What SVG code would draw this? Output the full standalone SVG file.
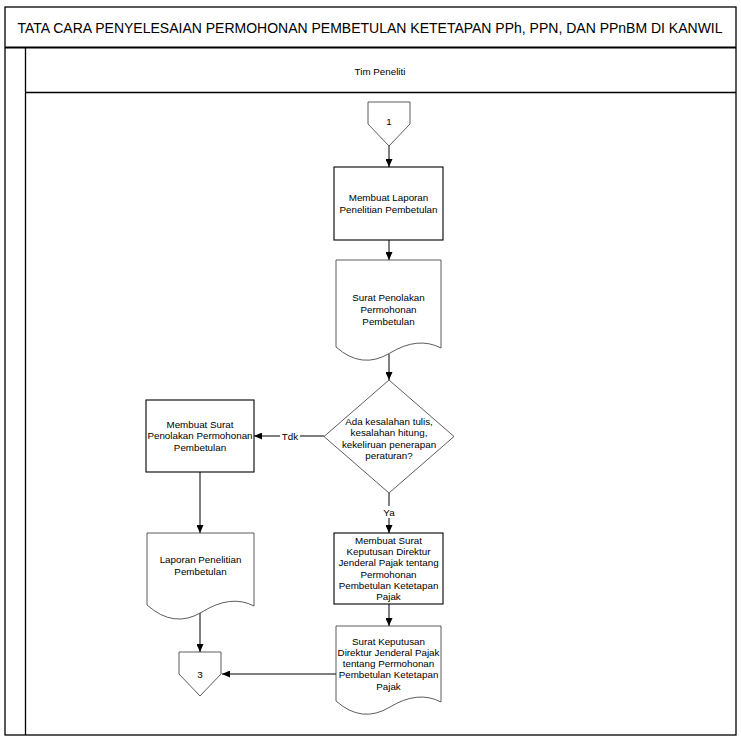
<svg xmlns="http://www.w3.org/2000/svg" width="741" height="742" viewBox="0 0 741 742">
<defs>
<marker id="ah" markerWidth="8" markerHeight="7" refX="8" refY="3.5" orient="auto" markerUnits="userSpaceOnUse">
<path d="M0,0 L8,3.5 L0,7 z" fill="#000"/>
</marker>
<style>
text{font-family:"Liberation Sans",Arial,sans-serif;font-size:9.8px;fill:#000;text-anchor:middle}
.title{font-size:14px}
.frame{fill:none;stroke:#000;stroke-width:1.3}
.box{fill:#fff;stroke:#000;stroke-width:1.1}
.thin{fill:#fff;stroke:#333;stroke-width:0.8}
.conn{fill:none;stroke:#000;stroke-width:1;marker-end:url(#ah)}
.lbl{fill:#fff;stroke:none}
</style>
</defs>
<rect width="741" height="742" fill="#fff"/>
<g id="frame">
<rect class="frame" x="5" y="7" width="731" height="728"/>
<line x1="5" y1="47.5" x2="736" y2="47.5" stroke="#000" stroke-width="2"/>
<line x1="25.5" y1="47" x2="25.5" y2="735" stroke="#000" stroke-width="1.3"/>
<line x1="25" y1="92.5" x2="736" y2="92.5" stroke="#000" stroke-width="1.3"/>
<text class="title" x="370" y="33">TATA CARA PENYELESAIAN PERMOHONAN PEMBETULAN KETETAPAN PPh, PPN, DAN PPnBM DI KANWIL</text>
<text x="380" y="74.5">Tim Peneliti</text>
</g>
<g id="connectors">
<line class="conn" x1="389" y1="146" x2="389" y2="167"/>
<line class="conn" x1="389" y1="240" x2="389" y2="260"/>
<line class="conn" x1="389" y1="354" x2="389" y2="380"/>
<line class="conn" x1="324" y1="436" x2="254" y2="436"/>
<rect class="lbl" x="280" y="430" width="20" height="12"/>
<text x="290" y="439.5">Tdk</text>
<line class="conn" x1="389" y1="493" x2="389" y2="533"/>
<rect class="lbl" x="382" y="506" width="14" height="12"/>
<text x="389" y="515.5">Ya</text>
<line class="conn" x1="200" y1="472" x2="200" y2="533"/>
<line class="conn" x1="389" y1="604" x2="389" y2="626"/>
<line class="conn" x1="200" y1="611" x2="200" y2="652"/>
<line class="conn" x1="336" y1="674" x2="222" y2="674"/>
</g>
<g id="start1">
<path class="thin" d="M368,102 L410,102 L410,124 L389,146 L368,124 Z"/>
<text x="389" y="124.5">1</text>
</g>
<g id="proc1">
<rect class="box" x="334" y="167" width="109" height="73"/>
<text x="388.5" y="201">Membuat Laporan</text>
<text x="388.5" y="213">Penelitian Pembetulan</text>
</g>
<g id="doc1">
<path class="thin" d="M336,260 L441,260 L441,348 Q418,336 390,353 Q362,370 336,347 Z"/>
<text x="388.5" y="300.5">Surat Penolakan</text>
<text x="388.5" y="312.5">Permohonan</text>
<text x="388.5" y="324.5">Pembetulan</text>
</g>
<g id="decision">
<path class="thin" d="M389,380 L454,436.5 L389,493 L324,436.5 Z"/>
<text x="389" y="424.5">Ada kesalahan tulis,</text>
<text x="389" y="436">kesalahan hitung,</text>
<text x="389" y="447.5">kekeliruan penerapan</text>
<text x="389" y="459">peraturan?</text>
</g>
<g id="procReject">
<rect class="box" x="146" y="400" width="108" height="72"/>
<text x="200" y="427.5">Membuat Surat</text>
<text x="200" y="439">Penolakan Permohonan</text>
<text x="200" y="450.5">Pembetulan</text>
</g>
<g id="docLaporan">
<path class="thin" d="M147,533 L254,533 L254,606 Q231,594 202,612 Q174,629 147,605 Z"/>
<text x="200.5" y="562.5">Laporan Penelitian</text>
<text x="200.5" y="575">Pembetulan</text>
</g>
<g id="procKeputusan">
<rect class="box" x="334" y="533" width="109" height="71"/>
<text x="388.5" y="543.8">Membuat Surat</text>
<text x="388.5" y="555.1">Keputusan Direktur</text>
<text x="388.5" y="566.4">Jenderal Pajak tentang</text>
<text x="388.5" y="577.7">Permohonan</text>
<text x="388.5" y="589">Pembetulan Ketetapan</text>
<text x="388.5" y="600.3">Pajak</text>
</g>
<g id="docKeputusan">
<path class="thin" d="M336,626 L441,626 L441,702 Q418,690 390,707 Q362,724 336,701 Z"/>
<text x="388.5" y="644.5">Surat Keputusan</text>
<text x="388.5" y="655.8">Direktur Jenderal Pajak</text>
<text x="388.5" y="667.1">tentang Permohonan</text>
<text x="388.5" y="678.4">Pembetulan Ketetapan</text>
<text x="388.5" y="689.7">Pajak</text>
</g>
<g id="end3">
<path class="thin" d="M179,652 L221,652 L221,674 L200,696 L179,674 Z"/>
<text x="200" y="677.5">3</text>
</g>
</svg>
